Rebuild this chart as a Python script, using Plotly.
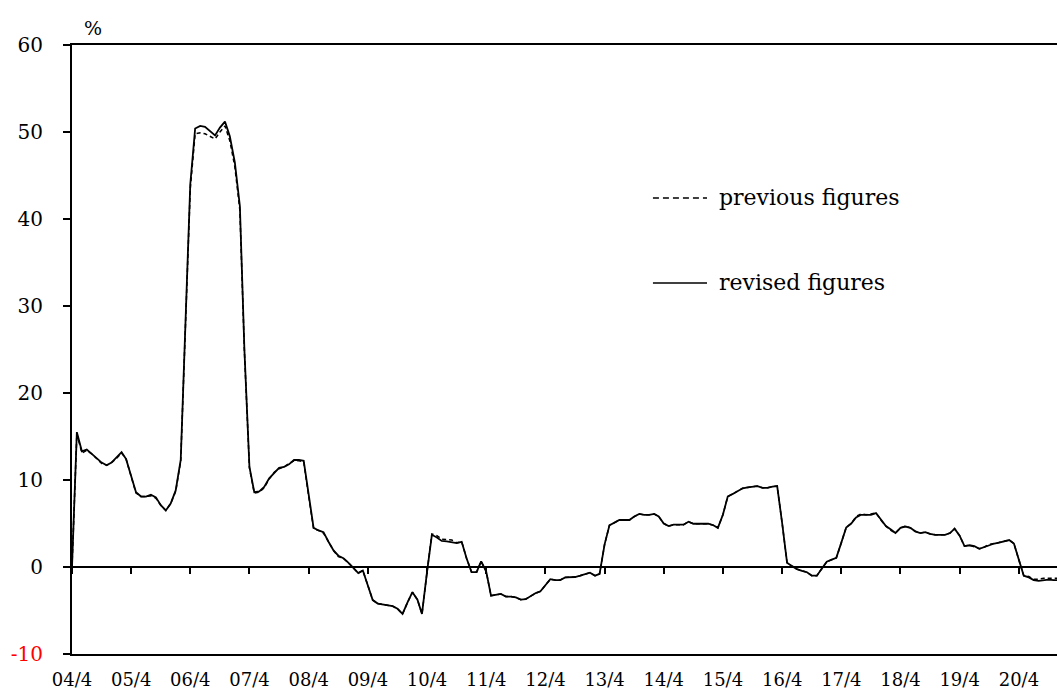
import plotly.graph_objects as go
import pandas as pd

# Monthly series starting April 2004 (%, year-on-year)
start_month = "2004-04-01"
revised = [
    0.0, 15.5, 13.3, 13.5, 13.0, 12.5, 12.0, 11.7, 12.0, 12.6,
    13.2, 12.4, 10.5, 8.6, 8.1, 8.1, 8.3, 8.0, 7.1, 6.5,
    7.3, 8.8, 12.3, 27.0, 44.0, 50.4, 50.7, 50.6, 50.1, 49.6,
    50.5, 51.2, 49.5, 46.5, 41.5, 25.0, 11.5, 8.6, 8.7, 9.2,
    10.2, 10.8, 11.4, 11.5, 11.8, 12.3, 12.3, 12.2, 8.2, 4.5,
    4.2, 4.0, 2.9, 1.9, 1.3, 1.0, 0.5, -0.1, -0.7, -0.4,
    -2.0, -3.8, -4.2, -4.3, -4.4, -4.5, -4.8, -5.4, -4.1, -2.9,
    -3.75, -5.4, -0.6, 3.7, 3.4, 3.0, 2.95, 2.85, 2.75, 2.9,
    1.0, -0.6, -0.6, 0.65, -0.5, -3.3, -3.2, -3.1, -3.4, -3.4,
    -3.5, -3.75, -3.7, -3.3, -3.0, -2.8, -2.1, -1.4, -1.5, -1.5,
    -1.2, -1.15, -1.15, -1.0, -0.8, -0.65, -1.0, -0.8, 2.6, 4.8,
    5.1, 5.4, 5.4, 5.4, 5.8, 6.1, 6.0, 6.0, 6.1, 5.8,
    5.0, 4.7, 4.86, 4.86, 4.86, 5.2, 4.97, 4.97, 4.97, 4.97,
    4.8, 4.5, 6.0, 8.1, 8.4, 8.75, 9.05, 9.15, 9.25, 9.3,
    9.1, 9.1, 9.25, 9.3, 5.0, 0.5, 0.1, -0.25, -0.45, -0.6,
    -1.0, -1.0, -0.2, 0.6, 0.85, 1.05, 2.8, 4.55, 5.0, 5.7,
    6.0, 6.0, 6.0, 6.2, 5.4, 4.7, 4.3, 3.9, 4.5, 4.65,
    4.5, 4.1, 3.9, 4.0, 3.8, 3.7, 3.7, 3.7, 3.9, 4.4,
    3.6, 2.4, 2.5, 2.4, 2.1, 2.3, 2.55, 2.7, 2.8, 2.95,
    3.1, 2.7, 0.8, -1.0, -1.2, -1.5, -1.6, -1.5, -1.45, -1.5,
    -1.5,
]
previous = [
    0.0, 15.3, 13.1, 13.4, 13.0, 12.4, 11.9, 11.7, 12.0, 12.5,
    13.1, 12.4, 10.4, 8.5, 8.1, 8.1, 8.2, 7.9, 7.1, 6.5,
    7.3, 8.7, 12.2, 26.5, 43.5, 49.8, 49.9, 49.8, 49.5, 49.2,
    50.0, 50.7, 49.0, 46.0, 41.0, 24.8, 11.4, 8.5, 8.6, 9.1,
    10.1, 10.9, 11.3, 11.5, 11.9, 12.2, 12.2, 12.1, 8.1, 4.4,
    4.2, 3.9, 2.9, 1.9, 1.2, 1.0, 0.5, -0.1, -0.7, -0.4,
    -2.0, -3.8, -4.2, -4.3, -4.4, -4.5, -4.8, -5.4, -4.1, -2.9,
    -3.75, -5.4, -0.6, 3.8, 3.6, 3.2, 3.15, 3.1, 2.8, 2.9,
    1.0, -0.6, -0.6, 0.65, -0.5, -3.3, -3.2, -3.1, -3.4, -3.4,
    -3.5, -3.75, -3.7, -3.3, -3.0, -2.8, -2.1, -1.4, -1.5, -1.5,
    -1.2, -1.15, -1.15, -1.0, -0.8, -0.65, -1.0, -0.8, 2.6, 4.8,
    5.1, 5.4, 5.4, 5.4, 5.8, 6.1, 6.0, 6.0, 6.1, 5.8,
    5.0, 4.7, 4.86, 4.86, 4.86, 5.2, 4.97, 4.97, 4.97, 4.97,
    4.8, 4.5, 6.0, 8.1, 8.4, 8.75, 9.05, 9.15, 9.25, 9.3,
    9.1, 9.1, 9.25, 9.3, 5.0, 0.5, 0.1, -0.25, -0.45, -0.6,
    -1.0, -1.0, -0.2, 0.6, 0.85, 1.05, 2.8, 4.55, 5.0, 5.8,
    6.1, 6.0, 6.1, 6.2, 5.4, 4.7, 4.2, 3.9, 4.5, 4.7,
    4.5, 4.1, 3.9, 4.0, 3.8, 3.7, 3.7, 3.7, 3.9, 4.4,
    3.6, 2.4, 2.5, 2.3, 2.1, 2.3, 2.6, 2.7, 2.8, 2.95,
    3.1, 2.7, 0.8, -1.0, -1.1, -1.4, -1.4, -1.3, -1.3, -1.3,
    -1.3,
]
y_tickvals = [-10, 0, 10, 20, 30, 40, 50, 60]
y_ticktext = ['<span style="color:red">-10</span>', "0", "10", "20", "30", "40", "50", "60"]
legend_labels = ["previous figures", "revised figures"]

dates = pd.date_range(start_month, periods=len(revised), freq="MS")

FONT = "DejaVu Serif"

fig = go.Figure()
# previous figures drawn on the overlaid zero-line axis (same range as x)
fig.add_trace(go.Scatter(x=dates, y=previous, mode="lines", name=legend_labels[0],
                         xaxis="x2",
                         line=dict(color="black", width=1.5, dash="4px,3px"),
                         showlegend=False, hoverinfo="skip"))
fig.add_trace(go.Scatter(x=dates, y=revised, mode="lines", name=legend_labels[1],
                         line=dict(color="black", width=1.8),
                         showlegend=False, hoverinfo="skip"))

x_range = ["2004-04-01", "2020-11-22"]

fig.update_layout(
    width=1057, height=693,
    margin=dict(l=72, r=0, t=45, b=39),
    paper_bgcolor="white", plot_bgcolor="white",
    font=dict(family=FONT, color="black"),
    xaxis=dict(
        type="date", range=x_range, automargin=False,
        tick0=start_month, dtick="M12", tickformat="%y/%-m",
        ticks="", showgrid=False, zeroline=False,
        showline=True, linecolor="black", linewidth=2, mirror=True,
        tickfont=dict(size=18, family=FONT), ticklabelstandoff=8,
    ),
    xaxis2=dict(
        type="date", range=x_range, overlaying="x", automargin=False,
        anchor="free", position=1 / 7, side="bottom",
        tick0=start_month, dtick="M12",
        ticks="outside", ticklen=6, tickwidth=1.5, tickcolor="black",
        showticklabels=False, showgrid=False, zeroline=False,
        showline=True, linecolor="black", linewidth=1.5,
    ),
    yaxis=dict(
        range=[-10, 60], tickvals=y_tickvals, ticktext=y_ticktext, automargin=False,
        ticks="outside", ticklen=7, tickwidth=1.5, tickcolor="black",
        showgrid=False, zeroline=False,
        showline=True, linecolor="black", linewidth=2,
        tickfont=dict(size=20, family=FONT), ticklabelstandoff=16,
    ),
    showlegend=False,
)

# percent unit label
fig.add_annotation(text="%", xref="paper", yref="paper", x=0.0105, y=1.0,
                   xanchor="left", yanchor="bottom", yshift=4, showarrow=False,
                   font=dict(size=19, family=FONT))

# legend (drawn manually to match layout)
leg_y = [0.7488, 0.6092]
leg_dash = ["6px,4px", "solid"]
for lbl, yy, dsh in zip(legend_labels, leg_y, leg_dash):
    fig.add_shape(type="line", xref="paper", yref="paper",
                  x0=0.5898, x1=0.6447, y0=yy, y1=yy,
                  line=dict(color="black", width=1.5, dash=dsh))
    fig.add_annotation(text=lbl, xref="paper", yref="paper", x=0.6548, y=yy,
                       xanchor="left", yanchor="middle", showarrow=False,
                       font=dict(size=22, family=FONT))

fig.write_html(
    "out.html",
    config={"displayModeBar": False},
    post_script="document.body.style.margin='0px';document.body.style.overflow='hidden';",
)
